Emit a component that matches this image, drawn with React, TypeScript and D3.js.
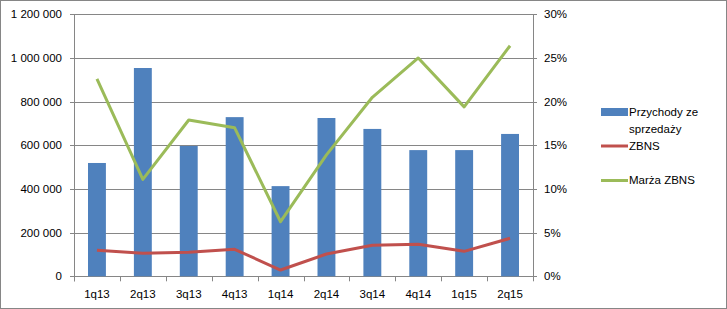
import React from "react";
import * as d3 from "d3";

const categories = ["1q13", "2q13", "3q13", "4q13", "1q14", "2q14", "3q14", "4q14", "1q15", "2q15"];
const revenue = [519000, 954000, 597000, 729000, 413000, 725000, 675000, 578000, 578000, 652000];
const zbns = [0.0298, 0.0263, 0.0275, 0.0309, 0.0072, 0.0255, 0.0355, 0.0366, 0.0286, 0.0435];
const marza = [0.226, 0.111, 0.179, 0.170, 0.0625, 0.139, 0.205, 0.250, 0.194, 0.264];
const leftTicks = [0, 200000, 400000, 600000, 800000, 1000000, 1200000];
const rightTicks = [0, 0.05, 0.1, 0.15, 0.2, 0.25, 0.3];

const W = 727, H = 309;
const L = 74, R = 533, T = 14.3, B = 276.3;
const FONT = "'Liberation Sans', Arial, sans-serif";
const FS = 11.5;

export default function App() {
  const x = d3.scaleBand().domain(categories).range([L, R]).padding(0);
  const yL = d3.scaleLinear().domain([0, 1200000]).range([B, T]);
  const yR = d3.scaleLinear().domain([0, 0.3]).range([B, T]);
  const fmt = (v: number) => d3.format(",")(v).replace(/,/g, " ");
  const bw = x.bandwidth() * 0.39;
  const cx = (c: string) => (x(c) as number) + x.bandwidth() / 2;
  const lineZ = d3.line<number>().x((_, i) => cx(categories[i])).y((d) => yR(d));
  const grid = "#868686";
  return (
    <div style={{ position: "fixed", left: 0, top: 0 }}>
      <svg width={W} height={H} style={{ display: "block", fontFamily: FONT }}>
        <rect x={0} y={0} width={W} height={H} fill="#fff" />
        <rect x={0.5} y={0.5} width={W - 1} height={H - 1} fill="none" stroke={grid} />
        {leftTicks.map((t) => (
          <g key={t}>
            <line x1={70} x2={R} y1={Math.round(yL(t)) + 0.5} y2={Math.round(yL(t)) + 0.5} stroke={grid} />
            <text x={62} y={yL(t) + 4} textAnchor="end" fontSize={FS} fill="#000">{fmt(t)}</text>
          </g>
        ))}
        {rightTicks.map((t) => (
          <g key={t}>
            <line x1={R} x2={537} y1={Math.round(yR(t)) + 0.5} y2={Math.round(yR(t)) + 0.5} stroke={grid} />
            <text x={544} y={yR(t) + 4} textAnchor="start" fontSize={FS} fill="#000">{Math.round(t * 100) + "%"}</text>
          </g>
        ))}
        <line x1={L + 0.5} x2={L + 0.5} y1={T} y2={B + 5} stroke={grid} />
        <line x1={R + 0.5} x2={R + 0.5} y1={T} y2={B + 5} stroke={grid} />
        {categories.map((c) => (
          <line key={"t" + c} x1={Math.round(x(c) as number) + 0.5} x2={Math.round(x(c) as number) + 0.5} y1={B} y2={B + 5} stroke={grid} />
        ))}
        {categories.map((c, i) => (
          <rect key={"b" + c} x={cx(c) - bw / 2} y={yL(revenue[i])} width={bw} height={B - yL(revenue[i])} fill="#4F81BD" />
        ))}
        <path d={lineZ(zbns) || ""} fill="none" stroke="#C0504D" strokeWidth={3} strokeLinejoin="round" />
        <path d={lineZ(marza) || ""} fill="none" stroke="#9BBB59" strokeWidth={3} strokeLinejoin="round" />
        {categories.map((c) => (
          <text key={"l" + c} x={cx(c)} y={298} textAnchor="middle" fontSize={FS} fill="#000">{c}</text>
        ))}
        <rect x={601} y={108} width={27} height={8} fill="#4F81BD" />
        <text x={629} y={116} fontSize={FS} fill="#000">Przychody ze</text>
        <text x={629} y={133} fontSize={FS} fill="#000">sprzedaży</text>
        <line x1={601} x2={628} y1={146} y2={146} stroke="#C0504D" strokeWidth={3} />
        <text x={629} y={150} fontSize={FS} fill="#000">ZBNS</text>
        <line x1={601} x2={628} y1={180.5} y2={180.5} stroke="#9BBB59" strokeWidth={3} />
        <text x={629} y={184} fontSize={FS} fill="#000">Marża ZBNS</text>
      </svg>
    </div>
  );
}
